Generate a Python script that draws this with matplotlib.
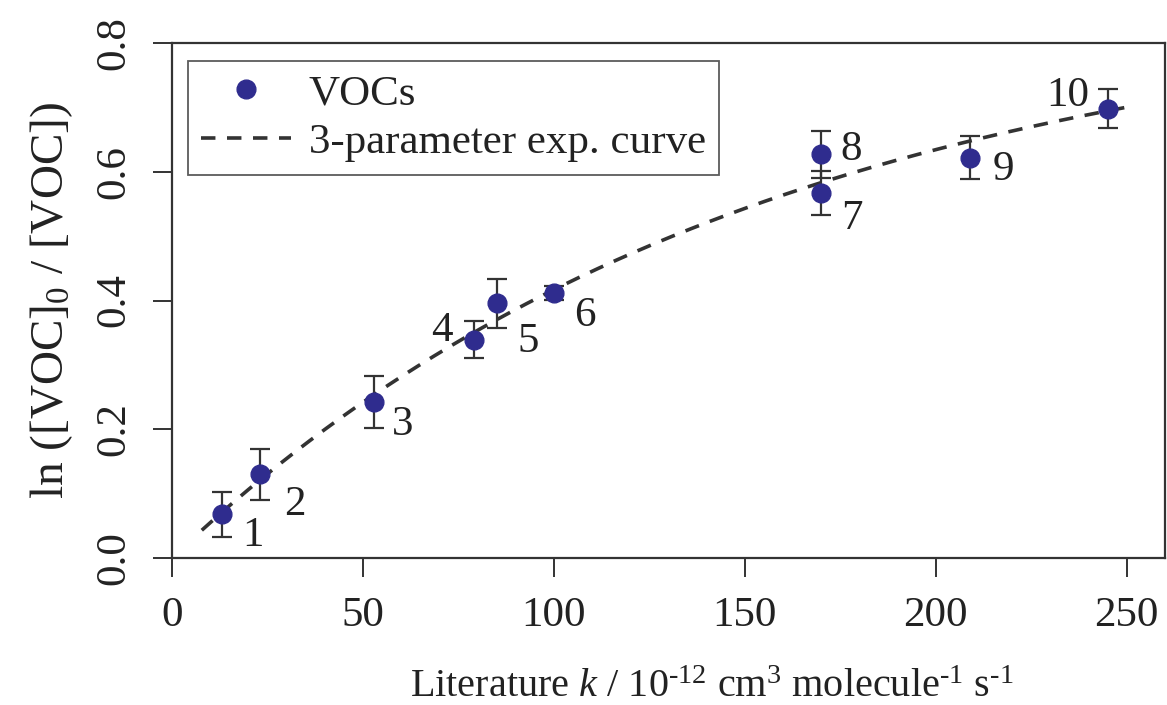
import numpy as np
import matplotlib
matplotlib.use('Agg')
import matplotlib.pyplot as plt

plt.rcParams['font.family'] = ['Liberation Serif', 'DejaVu Serif']
plt.rcParams['mathtext.fontset'] = 'custom'
plt.rcParams['mathtext.rm'] = 'Liberation Serif'
plt.rcParams['mathtext.it'] = 'Liberation Serif:italic'

# data
voc_id = ['1', '2', '3', '4', '5', '6', '7', '8', '9', '10']
k_lit = [13, 23, 53, 79, 85, 100, 170, 170, 209, 245]
ln_ratio = [0.068, 0.130, 0.242, 0.339, 0.396, 0.412, 0.567, 0.627, 0.622, 0.698]
ln_err = [0.035, 0.040, 0.040, 0.029, 0.038, 0.011, 0.034, 0.037, 0.034, 0.030]

# 3-parameter exp fit y = a*(1 - exp(-b*k)) + c
fit_a, fit_b, fit_c = 0.872, 0.0065, 0.0
fit_kmin, fit_kmax = 7.8, 250

# label offsets (pixels) for point numbers
lab_dx = [31, 35, 28, -32, 31, 31, 31, 30, 33, -40]
lab_dy = [-17, -26, -18, 14, -34, -18, -21, 9, -8, 17]

dotcol = '#2f2c8e'
ink = '#333333'
txt = '#222222'

fig = plt.figure(figsize=(11.67, 7.05), dpi=100)
ax = fig.add_axes([172 / 1167, 1 - 558 / 705, 993 / 1167, 515 / 705])

kk = np.linspace(fit_kmin, fit_kmax, 300)
yy = fit_a * (1 - np.exp(-fit_b * kk)) + fit_c
ax.plot(kk, yy, color=ink, lw=2.6, dashes=(4, 3.2), label='3-parameter exp. curve', zorder=2)

ax.errorbar(k_lit, ln_ratio, yerr=ln_err, fmt='none', ecolor=ink, elinewidth=1.6,
            capsize=7.5, capthick=1.6, zorder=3)
ax.plot(k_lit, ln_ratio, 'o', color=dotcol, ms=13.5, mec=dotcol, label='VOCs', zorder=4, ls='none')

for i, t in enumerate(voc_id):
    ax.annotate(t, (k_lit[i], ln_ratio[i]), xytext=(lab_dx[i], lab_dy[i]),
                textcoords='offset pixels', ha='center', va='center_baseline',
                fontsize=31, color=txt)

ax.set_xlim(0, 260)
ax.set_ylim(0, 0.8)
ax.set_xticks([0, 50, 100, 150, 200, 250])
ax.set_yticks([0.0, 0.2, 0.4, 0.6, 0.8])
ax.set_yticklabels(['0.0', '0.2', '0.4', '0.6', '0.8'], rotation=90, va='center')
ax.tick_params(direction='out', length=14, width=1.4, color=ink, labelsize=31,
               labelcolor=txt)
ax.tick_params(axis='x', pad=14)
ax.tick_params(axis='y', pad=14)
for s in ax.spines.values():
    s.set_color(ink)
    s.set_linewidth(1.6)

ax.set_xlabel(r'Literature $k$ / 10$^{\text{-12}}$ cm$^{\text{3}}$ molecule$^{\text{-1}}$ s$^{\text{-1}}$',
              fontsize=29, color=txt, labelpad=20)
ax.xaxis.set_label_coords(0.544, -0.215)
ax.set_ylabel(r'ln ([VOC]$_{\text{0}}$ / [VOC])', fontsize=34, color=txt, labelpad=14)

h, l = ax.get_legend_handles_labels()
leg = ax.legend(h[::-1], l[::-1], loc='upper left', bbox_to_anchor=(16 / 993, 1 - 18 / 515),
                borderaxespad=0, fontsize=31, frameon=True, fancybox=False,
                handlelength=2.1, handletextpad=0.4, labelspacing=0.22,
                borderpad=0.3, numpoints=1)
leg.get_frame().set_edgecolor(ink)
leg.get_frame().set_linewidth(1.3)
for t in leg.get_texts():
    t.set_color(txt)

fig.savefig('out.png', dpi=100)
